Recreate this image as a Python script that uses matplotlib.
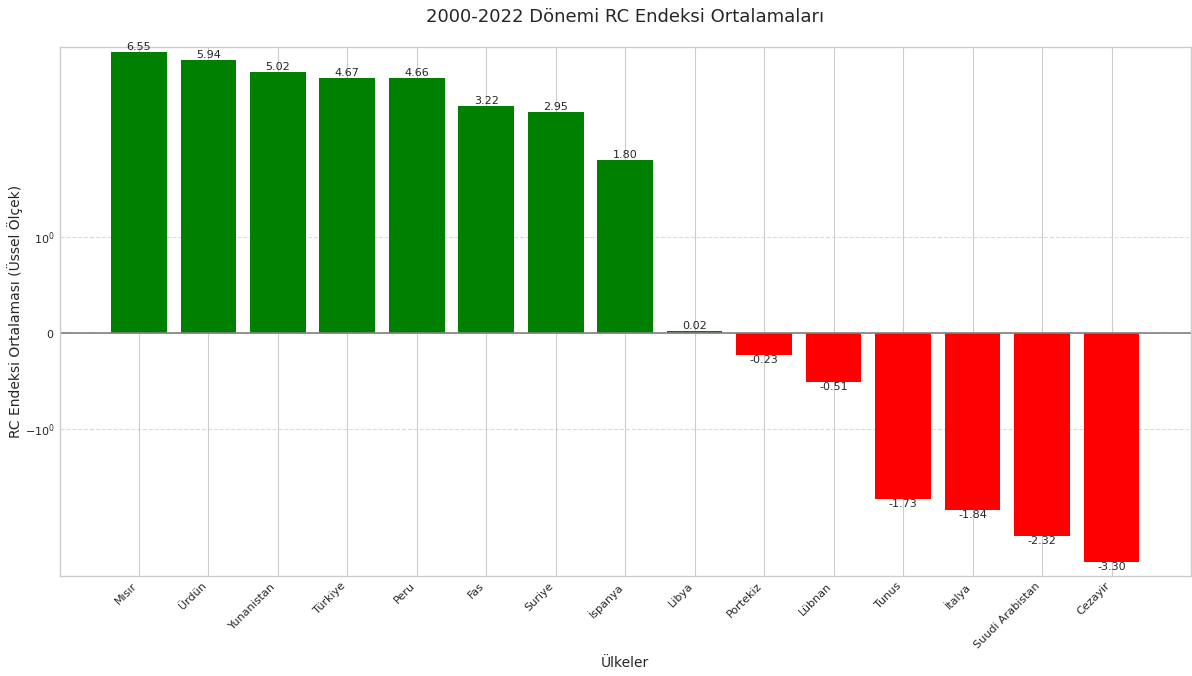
import matplotlib
matplotlib.use('Agg')
import matplotlib.pyplot as plt

# RC index averages 2000-2022
countries = ['Mısır', 'Ürdün', 'Yunanistan', 'Türkiye', 'Peru', 'Fas', 'Suriye', 'İspanya',
             'Libya', 'Portekiz', 'Lübnan', 'Tunus', 'İtalya', 'Suudi Arabistan', 'Cezayir']
values = [6.55, 5.94, 5.02, 4.67, 4.66, 3.22, 2.95, 1.80,
          0.02, -0.23, -0.51, -1.73, -1.84, -2.32, -3.30]

plt.style.use('seaborn-v0_8-whitegrid')
plt.rcParams['font.family'] = ['DejaVu Sans']
fig, ax = plt.subplots(figsize=(11.92, 6.76), dpi=100)
fig.subplots_adjust(left=0.050, right=0.999, top=0.930, bottom=0.148)

colors = ['green' if v > 0 else 'red' for v in values]
bars = ax.bar(countries, values, color=colors)

ax.set_yscale('symlog', linthresh=2)
ax.set_ylim(-3.95, 7)
ax.axhline(0, color='gray', linewidth=1.2)

for b, v in zip(bars, values):
    x = b.get_x() + b.get_width() / 2
    if v >= 0:
        ax.text(x, v, '%.2f' % v, ha='center', va='bottom', fontsize=8, color='.15')
    else:
        ax.text(x, v, '%.2f' % v, ha='center', va='top', fontsize=8, color='.15')

ax.set_title('2000-2022 Dönemi RC Endeksi Ortalamaları', fontsize=13, pad=18)
ax.set_xlabel('Ülkeler', fontsize=10)
ax.set_ylabel('RC Endeksi Ortalaması (Üssel Ölçek)', fontsize=10)
ax.xaxis.set_label_coords(0.5, -0.151)
ax.yaxis.set_label_coords(-0.0327, 0.5)
plt.xticks(rotation=45, ha='right', fontsize=8)
plt.yticks(fontsize=8)
ax.grid(axis='y', linestyle='--', alpha=0.7)

plt.savefig('out.png')
